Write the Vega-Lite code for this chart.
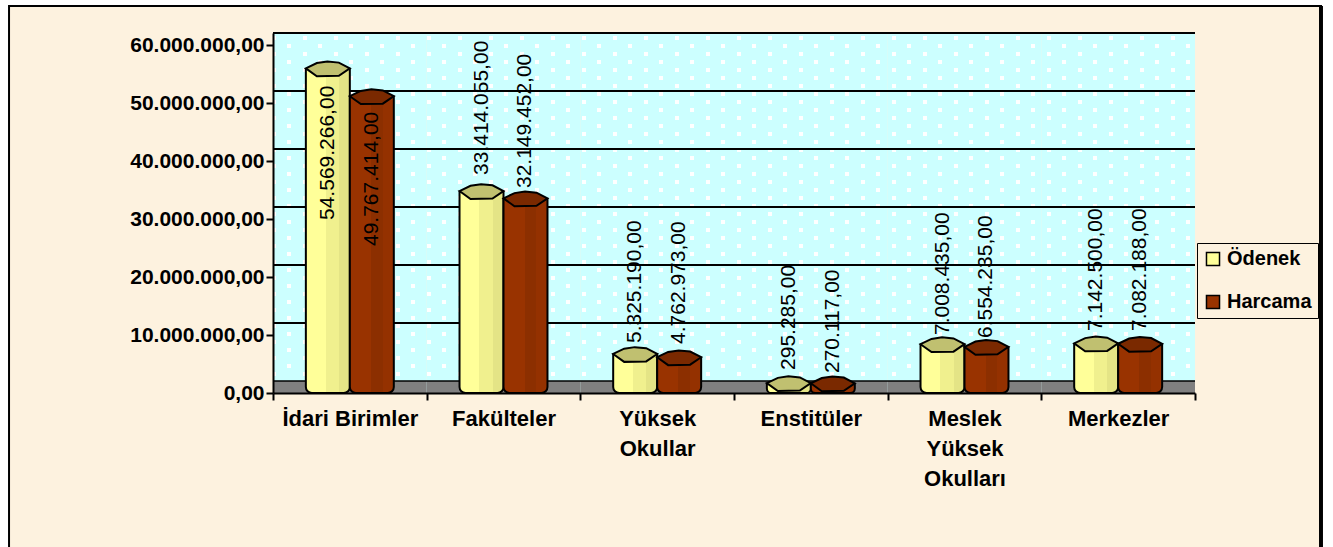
{
"$schema":"https://vega.github.io/schema/vega-lite/v6.json",
"width":922,"height":360,"autosize":{"type":"none"},"padding":{"left":273,"top":33,"right":138,"bottom":154},
"background":"#ffffff",
"config":{"view":{"stroke":null},"font":"Liberation Sans"},
"datasets":{
"bars":[
{"cat":"İdari Birimler","series":"Ödenek","value":54569266,"labelPos":29830000,"text":"54.569.266,00"},
{"cat":"İdari Birimler","series":"Harcama","value":49767414,"labelPos":25340000,"text":"49.767.414,00"},
{"cat":"Fakülteler","series":"Ödenek","value":33414055,"labelPos":37590000,"text":"33.414.055,00"},
{"cat":"Fakülteler","series":"Harcama","value":32149452,"labelPos":35340000,"text":"32.149.452,00"},
{"cat":"Yüksek Okullar","series":"Ödenek","value":5325190,"labelPos":8620000,"text":"5.325.190,00"},
{"cat":"Yüksek Okullar","series":"Harcama","value":4762973,"labelPos":8450000,"text":"4.762.973,00"},
{"cat":"Enstitüler","series":"Ödenek","value":295285,"labelPos":3970000,"text":"295.285,00"},
{"cat":"Enstitüler","series":"Harcama","value":270117,"labelPos":3450000,"text":"270.117,00"},
{"cat":"Meslek Yüksek Okulları","series":"Ödenek","value":7008435,"labelPos":10000000,"text":"7.008.435,00"},
{"cat":"Meslek Yüksek Okulları","series":"Harcama","value":6554235,"labelPos":9480000,"text":"6.554.235,00"},
{"cat":"Merkezler","series":"Ödenek","value":7142500,"labelPos":10690000,"text":"7.142.500,00"},
{"cat":"Merkezler","series":"Harcama","value":7082188,"labelPos":10690000,"text":"7.082.188,00"}
],
"cats":[{"cat":"İdari Birimler"},{"cat":"Fakülteler"},{"cat":"Yüksek Okullar"},{"cat":"Enstitüler"},{"cat":"Meslek Yüksek Okulları"},{"cat":"Merkezler"}]
},
"layer":[
{"data":{"values":[{"a":-0.2863,"b":1.1367,"t":66724000,"u":-28790000}]},
 "mark":{"type":"rect","fill":"#FDF2DF","stroke":"#000000","strokeWidth":2,"clip":false},
 "encoding":{"x":{"field":"a","type":"quantitative","axis":null,"scale":{"domain":[0,1],"zero":false,"nice":false}},"x2":{"field":"b"},"y":{"field":"t","type":"quantitative","title":null,"scale":{"domain":[0,62068966],"nice":false},
   "axis":{"values":[0,10000000,20000000,30000000,40000000,50000000,60000000],"grid":false,"zindex":1,"labelFontSize":21,"labelFontWeight":"bold","labelColor":"#000000","labelPadding":2,"tickSize":7,"tickWidth":2,"tickColor":"#000000","domainColor":"#000000","domainWidth":2,"labelExpr":"replace(replace(replace(format(datum.value,',.2f'),/,/g,'#'),/\\./g,','),/#/g,'.')"}},"y2":{"field":"u"}}},
{"data":{"values":[{"a":1.1345,"b":1.1388,"t":66724000,"u":-28790000}]},
 "mark":{"type":"rect","fill":"#000000","clip":false},
 "encoding":{"x":{"field":"a","type":"quantitative","axis":null,"scale":{"domain":[0,1],"zero":false,"nice":false}},"x2":{"field":"b"},"y":{"field":"t","type":"quantitative"},"y2":{"field":"u"}}},
{"layer":[
 {"data":{"name":"cats"},"mark":{"type":"bar","fill":"#CCFFFF","width":{"band":1}},
  "encoding":{"x":{"field":"cat","type":"nominal","sort":null,"title":null,"scale":{"domain":["İdari Birimler","Fakülteler","Yüksek Okullar","Enstitüler","Meslek Yüksek Okulları","Merkezler"],"paddingInner":0,"paddingOuter":0},
   "axis":{"labelAngle":0,"zindex":1,"labelFontSize":22,"labelFontWeight":"bold","labelColor":"#000000","labelLineHeight":30,"labelLimit":400,"labelPadding":8,"labelOverlap":false,"tickBand":"extent","tickSize":7,"tickWidth":2,"tickColor":"#000000","domainColor":"#000000","domainWidth":2,"labelExpr":"datum.label=='Yüksek Okullar'?['Yüksek','Okullar']:datum.label=='Meslek Yüksek Okulları'?['Meslek','Yüksek','Okulları']:datum.label"}},
   "y":{"datum":62068966,"type":"quantitative"},"y2":{"datum":0}}},
 {"data":{"name":"cats"},"mark":{"type":"bar","fill":"#808080","width":{"band":1}},
  "encoding":{"x":{"field":"cat","type":"nominal"},"y":{"datum":2068966,"type":"quantitative"},"y2":{"datum":0}}},
 {"data":{"values":[{"v":61206900},{"v":58448300},{"v":55689700},{"v":52931000},{"v":50172400},{"v":47413800},{"v":44655200},{"v":41896600},{"v":39137900},{"v":36379300},{"v":33620700},{"v":30862100},{"v":28103400},{"v":25344800},{"v":22586200},{"v":19827600},{"v":17069000},{"v":14310300},{"v":11551700},{"v":8793100},{"v":6034500},{"v":3275900}]},
  "mark":{"type":"rule","stroke":"#ffffff","strokeWidth":4,"strokeDash":[4,27],"strokeDashOffset":11},
  "encoding":{"y":{"field":"v","type":"quantitative"}}},
 {"data":{"values":[{"v":59827600},{"v":57069000},{"v":54310300},{"v":51551700},{"v":48793100},{"v":46034500},{"v":43275900},{"v":40517200},{"v":37758600},{"v":35000000},{"v":32241400},{"v":29482800},{"v":26724100},{"v":23965500},{"v":21206900},{"v":18448300},{"v":15689700},{"v":12931000},{"v":10172400},{"v":7413800},{"v":4655200}]},
  "mark":{"type":"rule","stroke":"#ffffff","strokeWidth":4,"strokeDash":[4,27],"strokeDashOffset":26},
  "encoding":{"y":{"field":"v","type":"quantitative"}}},
 {"data":{"values":[{"v":10000000},{"v":20000000},{"v":30000000},{"v":40000000},{"v":50000000},{"v":60000000}]},
  "mark":{"type":"rule","stroke":"#000000","strokeWidth":2,"yOffset":-12},
  "encoding":{"y":{"field":"v","type":"quantitative"}}},
 {"data":{"values":[{"v":2068966}]},
  "mark":{"type":"rule","stroke":"#000000","strokeWidth":1.5},
  "encoding":{"y":{"field":"v","type":"quantitative"}}},
 {"data":{"name":"bars"},
  "mark":{"type":"bar","yOffset":-7.5,"cornerRadiusBottomLeft":6,"cornerRadiusBottomRight":6,"width":{"band":1}},
  "encoding":{"x":{"field":"cat","type":"nominal"},"xOffset":{"field":"series","type":"nominal","scale":{"domain":["Ödenek","Harcama"],"paddingInner":0,"paddingOuter":0.747}},
   "y":{"field":"value","type":"quantitative"},"y2":{"datum":0},
   "color":{"field":"series","type":"nominal","scale":{"domain":["Ödenek","Harcama"],"range":["#FFFF99","#993300"]},
    "legend":{"title":null,"orient":"none","legendX":924,"legendY":210,"fillColor":"#FDF2DF","strokeColor":"#000000","padding":6,"symbolType":"square","symbolSize":170,"symbolStrokeColor":"#000000","symbolStrokeWidth":1.5,"labelFontSize":20,"labelFontWeight":"bold","labelColor":"#000000","labelOffset":4,"rowPadding":23,"labelLimit":200}}}},
 {"data":{"name":"bars"},"transform":[{"filter":"datum.series=='Ödenek'"}],
  "mark":{"type":"bar","yOffset":-7.5,"cornerRadiusBottomLeft":6,"cornerRadiusBottomRight":6,"width":{"band":1},"stroke":"#000000","strokeWidth":2,
   "fill":{"gradient":"linear","x1":0,"x2":1,"y1":0,"y2":0,"stops":[{"offset":0,"color":"#FFFF99"},{"offset":0.45,"color":"#FFFF99"},{"offset":0.45,"color":"#F0F08E"},{"offset":0.75,"color":"#F0F08E"},{"offset":0.75,"color":"#E4E486"},{"offset":1,"color":"#E4E486"}]}},
  "encoding":{"x":{"field":"cat","type":"nominal"},"xOffset":{"field":"series","type":"nominal","scale":{"domain":["Ödenek","Harcama"],"paddingInner":0,"paddingOuter":0.747}},"y":{"field":"value","type":"quantitative"},"y2":{"datum":0}}},
 {"data":{"name":"bars"},"transform":[{"filter":"datum.series=='Harcama'"}],
  "mark":{"type":"bar","yOffset":-7.5,"cornerRadiusBottomLeft":6,"cornerRadiusBottomRight":6,"width":{"band":1},"stroke":"#000000","strokeWidth":2,
   "fill":{"gradient":"linear","x1":0,"x2":1,"y1":0,"y2":0,"stops":[{"offset":0,"color":"#993300"},{"offset":0.48,"color":"#993300"},{"offset":0.48,"color":"#8C2F00"},{"offset":0.75,"color":"#8C2F00"},{"offset":0.75,"color":"#943100"},{"offset":1,"color":"#943100"}]}},
  "encoding":{"x":{"field":"cat","type":"nominal"},"xOffset":{"field":"series","type":"nominal","scale":{"domain":["Ödenek","Harcama"],"paddingInner":0,"paddingOuter":0.747}},"y":{"field":"value","type":"quantitative"},"y2":{"datum":0}}},
 {"data":{"name":"bars"},
  "mark":{"type":"point","filled":true,"opacity":1,"size":1936,"yOffset":-7.5,"stroke":"#000000","strokeWidth":2,
   "shape":"M-1,-0.03 L-0.5,-0.27 L-0.02,-0.34 L0.5,-0.29 L1,-0.03 L0.5,0.31 L-0.5,0.33 Z"},
  "encoding":{"x":{"field":"cat","type":"nominal"},"xOffset":{"field":"series","type":"nominal","scale":{"domain":["Ödenek","Harcama"],"paddingInner":0,"paddingOuter":0.747}},
   "y":{"field":"value","type":"quantitative"},
   "fill":{"field":"series","type":"nominal","legend":null,"scale":{"domain":["Ödenek","Harcama"],"range":["#C0C070","#7A2900"]}}}},
 {"data":{"name":"bars"},
  "mark":{"type":"text","angle":270,"align":"left","baseline":"middle","fontSize":21,"color":"#000000"},
  "encoding":{"x":{"field":"cat","type":"nominal"},"xOffset":{"field":"series","type":"nominal","scale":{"domain":["Ödenek","Harcama"],"paddingInner":0,"paddingOuter":0.747}},
   "y":{"field":"labelPos","type":"quantitative"},"text":{"field":"text","type":"nominal"}}}
 ]}
],
"resolve":{"scale":{"x":"independent"}}
}
